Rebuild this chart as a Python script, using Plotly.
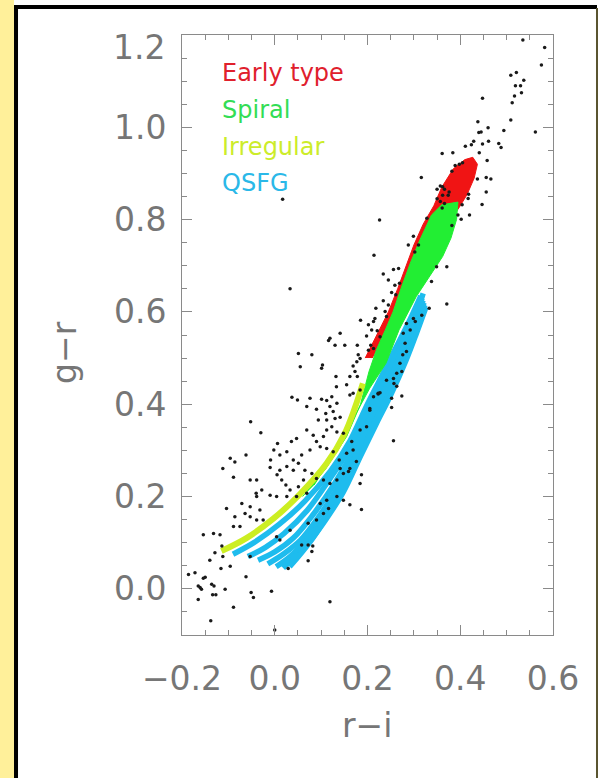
import plotly.graph_objects as go

# ---------------- data ----------------
# field galaxies (r-i, g-r)
field_points = [
    # upper region
    (0.535,1.189),(0.582,1.173),(0.575,1.135),(0.509,1.113),(0.521,1.119),(0.537,1.102),(0.519,1.090),
    (0.530,1.090),(0.532,1.075),(0.517,1.068),(0.512,1.053),(0.448,1.063),(0.509,1.016),(0.562,0.990),
    (0.494,0.993),(0.438,1.012),(0.460,0.999),(0.440,0.989),(0.445,0.990),(0.461,0.970),(0.429,0.970),
    (0.424,0.962),(0.411,0.959),(0.483,0.965),(0.488,0.956),(0.441,0.945),(0.361,0.943),(0.384,0.945),
    (0.458,0.928),(0.389,0.917),(0.398,0.920),(0.405,0.923),(0.382,0.905),(0.316,0.891),(0.437,0.888),
    (0.456,0.891),(0.466,0.888),(0.357,0.873),(0.362,0.871),(0.350,0.866),(0.366,0.866),(0.376,0.860),
    (0.374,0.853),(0.362,0.853),(0.456,0.860),(0.418,0.855),(0.417,0.846),(0.350,0.845),(0.357,0.839),
    (0.366,0.835),(0.447,0.833),(0.404,0.832),(0.361,0.825),(0.420,0.810),(0.395,0.810),(0.402,0.801),
    (0.226,0.799),(0.328,0.803),(0.382,0.787),(0.349,0.698),(0.371,0.698),(0.371,0.617),(0.448,0.964),
    (0.017,0.844),
    # middle region
    (0.214,0.723),(0.033,0.650),(0.299,0.764),(0.288,0.745),(0.302,0.730),(0.310,0.745),
    (0.256,0.692),(0.267,0.694),(0.234,0.682),(0.245,0.669),(0.259,0.658),(0.269,0.662),(0.252,0.642),
    (0.261,0.637),(0.234,0.624),(0.218,0.608),(0.245,0.615),(0.238,0.601),(0.241,0.590),(0.216,0.586),
    (0.213,0.579),(0.202,0.572),(0.185,0.582),(0.209,0.561),(0.198,0.548),(0.221,0.559),(0.227,0.546),
    (0.207,0.528),(0.213,0.521),(0.202,0.517),(0.178,0.528),(0.180,0.507),(0.184,0.499),(0.177,0.492),
    (0.169,0.483),(0.173,0.471),(0.178,0.460),(0.162,0.460),(0.155,0.442),(0.133,0.438),(0.151,0.528),
    (0.141,0.554),(0.119,0.543),(0.116,0.538),(0.130,0.528),(0.051,0.510),(0.080,0.507),(0.055,0.481),
    (0.103,0.485),(0.101,0.478),(0.132,0.460),
    (0.338,0.666),(0.333,0.608),(0.317,0.593),(0.299,0.586),(0.303,0.579),(0.284,0.575),(0.292,0.561),
    (0.277,0.554),(0.281,0.532),(0.276,0.507),(0.270,0.489),(0.263,0.467),(0.256,0.456),(0.241,0.452),
    (0.263,0.439),(0.257,0.445),(0.274,0.471),(0.284,0.514),
    (0.227,0.425),(0.223,0.422),(0.213,0.416),(0.274,0.418),(0.252,0.413),(0.252,0.393),(0.205,0.391),
    (0.256,0.321),
    # lower region
    (0.037,0.415),(0.049,0.409),(0.076,0.413),(0.101,0.411),(0.112,0.408),(0.123,0.416),(0.134,0.402),
    (0.119,0.395),(0.126,0.384),(0.110,0.380),(0.069,0.395),(0.090,0.389),(0.094,0.366),(0.112,0.366),
    (0.130,0.369),(0.141,0.372),(0.162,0.420),(0.169,0.424),(0.184,0.431),(-0.052,0.362),
    (-0.030,0.338),(0.006,0.315),(0.036,0.319),(0.047,0.326),(0.069,0.344),(0.083,0.333),(0.090,0.319),
    (0.105,0.330),(0.112,0.344),(0.123,0.351),(0.134,0.340),(0.148,0.337),(0.166,0.319),(0.184,0.344),
    (0.198,0.351),(0.205,0.387),(0.223,0.424),(-0.002,0.301),(0.011,0.290),(0.026,0.297),(0.040,0.279),
    (0.051,0.272),(0.058,0.290),(0.076,0.301),(0.098,0.308),(0.112,0.304),(0.126,0.297),(0.139,0.279),
    (0.155,0.294),(0.169,0.301),(0.176,0.276),(0.162,0.261),(0.187,0.247),(0.184,0.228),(0.159,0.254),
    (0.148,0.250),(0.141,0.261),(0.134,0.236),(0.119,0.228),(0.105,0.236),(0.090,0.239),(0.080,0.250),
    (0.065,0.257),(0.040,0.257),(0.026,0.265),(0.011,0.257),(-0.009,0.279),(-0.010,0.263),(0.005,0.247),
    (0.015,0.236),(0.024,0.225),(0.033,0.214),(0.051,0.221),(0.062,0.236),(0.069,0.207),(0.047,0.200),
    (0.026,0.200),(0.004,0.200),(-0.010,0.203),(-0.028,0.214),(-0.039,0.236),(-0.053,0.236),(-0.040,0.207),
    (-0.062,0.290),(-0.096,0.283),(-0.086,0.275),(-0.112,0.261),(-0.089,0.242),(-0.071,0.185),
    (-0.053,0.178),(-0.039,0.200),(-0.032,0.171),(-0.025,0.149),(-0.039,0.149),(-0.053,0.156),
    (-0.064,0.163),(-0.086,0.156),(-0.075,0.135),(-0.089,0.135),(-0.104,0.174),(-0.118,0.117),
    (-0.114,0.093),(-0.132,0.120),(-0.154,0.117),(0.072,0.095),(0.082,0.093),(0.058,0.095),(0.033,0.127),
    (0.011,0.106),(0.004,0.113),(0.187,0.172),(0.162,0.182),(0.148,0.192),(0.134,0.200),(0.112,0.192),
    (0.098,0.185),(0.116,0.174),(0.105,0.163),(0.090,0.149),(0.072,0.142),
    # bottom region
    (-0.186,0.031),(-0.172,0.035),(-0.154,0.023),(-0.150,0.025),(-0.165,0.006),(-0.161,0.003),
    (-0.158,-0.001),(-0.136,0.010),(-0.131,0.006),(-0.134,-0.013),(-0.127,-0.013),(-0.165,-0.023),
    (-0.107,-0.001),(-0.089,-0.040),(-0.138,-0.069),(-0.062,0.026),(-0.051,-0.008),(-0.046,-0.019),
    (-0.007,-0.005),(0.000,-0.089),(0.119,-0.028),(-0.116,0.044),(-0.096,0.049),(-0.140,0.062),
    (-0.129,0.078),(-0.112,0.070),(-0.053,0.070),(0.072,0.061),(0.029,0.044),(0.080,0.081),
]
field_ri = [p[0] for p in field_points]
field_gr = [p[1] for p in field_points]

# Early-type track (outline of the red band)
early_ri = [0.195, 0.22, 0.245, 0.265, 0.283, 0.300, 0.320, 0.343, 0.360, 0.385, 0.410, 0.427,
            0.437, 0.430, 0.415, 0.400, 0.360, 0.320, 0.280, 0.240, 0.210]
early_gr = [0.500, 0.55, 0.600, 0.650, 0.700, 0.745, 0.790, 0.830, 0.870, 0.910, 0.930, 0.935,
            0.920, 0.890, 0.855, 0.830, 0.770, 0.700, 0.620, 0.550, 0.500]

# Spiral track (outline of the green band)
spiral_ri = [0.060, 0.110, 0.155, 0.185, 0.203, 0.220, 0.238, 0.255, 0.272, 0.292, 0.313, 0.338, 0.360,
             0.395, 0.392, 0.380, 0.362, 0.335, 0.305, 0.268, 0.240, 0.205, 0.175, 0.135, 0.085]
spiral_gr = [0.200, 0.260, 0.330, 0.400, 0.470, 0.520, 0.560, 0.600, 0.650, 0.705, 0.756, 0.810, 0.832,
             0.838, 0.800, 0.760, 0.720, 0.680, 0.633, 0.561, 0.489, 0.435, 0.380, 0.305, 0.225]

# Irregular track
irr_ri = [-0.115, -0.061, -0.003, 0.054, 0.112, 0.150, 0.172, 0.190]
irr_gr = [0.082, 0.110, 0.152, 0.205, 0.272, 0.335, 0.390, 0.445]

# QSFG tracks (fan of curves)
qsfg_ri = [
    [-0.090, -0.045, 0.010, 0.065, 0.120, 0.162, 0.195, 0.225, 0.260, 0.290, 0.315],
    [-0.058, -0.020, 0.020, 0.070, 0.120, 0.165, 0.200, 0.230, 0.265, 0.292, 0.318],
    [-0.036, 0.000, 0.040, 0.082, 0.127, 0.170, 0.205, 0.235, 0.270, 0.295, 0.320],
    [-0.015, 0.018, 0.055, 0.094, 0.133, 0.175, 0.210, 0.240, 0.275, 0.298, 0.322],
    [0.003, 0.033, 0.068, 0.104, 0.142, 0.180, 0.215, 0.245, 0.280, 0.302, 0.324],
    [0.018, 0.045, 0.077, 0.110, 0.148, 0.186, 0.220, 0.250, 0.285, 0.306, 0.326],
    [0.032, 0.055, 0.082, 0.104, 0.122, 0.142, 0.163, 0.198, 0.227, 0.255, 0.280, 0.300, 0.320],
]
qsfg_gr = [
    [0.075, 0.100, 0.140, 0.190, 0.255, 0.320, 0.390, 0.450, 0.520, 0.580, 0.635],
    [0.070, 0.090, 0.120, 0.170, 0.240, 0.310, 0.380, 0.440, 0.510, 0.570, 0.630],
    [0.062, 0.080, 0.110, 0.160, 0.225, 0.300, 0.370, 0.430, 0.500, 0.560, 0.625],
    [0.054, 0.075, 0.105, 0.155, 0.215, 0.290, 0.360, 0.425, 0.500, 0.555, 0.620],
    [0.048, 0.070, 0.105, 0.150, 0.210, 0.290, 0.360, 0.420, 0.500, 0.555, 0.615],
    [0.045, 0.072, 0.105, 0.150, 0.210, 0.290, 0.360, 0.420, 0.500, 0.555, 0.610],
    [0.048, 0.075, 0.110, 0.145, 0.185, 0.220, 0.257, 0.351, 0.409, 0.470, 0.530, 0.580, 0.640],
]

legend_labels = ["Early type", "Spiral", "Irregular", "QSFG"]
legend_colors = ["#e0202c", "#33dd55", "#ccec2a", "#2ab8e8"]

x_ticks = [-0.2, 0.0, 0.2, 0.4, 0.6]
y_ticks = [0.0, 0.2, 0.4, 0.6, 0.8, 1.0, 1.2]
y_ticktext = ["0.0", "0.2", "0.4", "0.6", "0.8", "1.0", ""]   # top label is drawn slightly lower, as in the original
y_top_label = "1.2"

RED = "#f01414"
GREEN = "#22ee33"
YELLOW = "#ccee22"
CYAN = "#1ebcee"
TEXT_GREY = "#767676"

# ---------------- figure ----------------
fig = go.Figure()

fig.add_trace(go.Scatter(x=early_ri, y=early_gr, mode="lines", fill="toself",
                         fillcolor=RED, line=dict(color=RED, width=1), hoverinfo="skip"))
for rx, gy in zip(qsfg_ri, qsfg_gr):
    fig.add_trace(go.Scatter(x=rx, y=gy, mode="lines",
                             line=dict(color=CYAN, width=5.5, shape="spline"), hoverinfo="skip"))
fig.add_trace(go.Scatter(x=spiral_ri, y=spiral_gr, mode="lines", fill="toself",
                         fillcolor=GREEN, line=dict(color=GREEN, width=1), hoverinfo="skip"))
fig.add_trace(go.Scatter(x=irr_ri, y=irr_gr, mode="lines",
                         line=dict(color=YELLOW, width=6, shape="spline"), hoverinfo="skip"))
fig.add_trace(go.Scatter(x=field_ri, y=field_gr, mode="markers",
                         marker=dict(color="#1a1a1a", size=3.5)))

axis_common = dict(
    showline=True, linecolor="#8a8a8a", linewidth=1, mirror="allticks",
    ticks="inside", ticklen=10, tickcolor="#8a8a8a", tickwidth=1,
    showgrid=False, zeroline=False,
    tickfont=dict(family="DejaVu Sans", size=33, color=TEXT_GREY),
    minor=dict(ticks="inside", ticklen=5, dtick=0.05, tickcolor="#8a8a8a", showgrid=False),
)

fig.update_xaxes(range=[-0.2, 0.6], tickvals=x_ticks, tickformat=".1f",
                 ticklabelstandoff=14, **axis_common)
fig.update_yaxes(range=[-0.1, 1.2], tickvals=y_ticks, ticktext=y_ticktext,
                 ticklabelstandoff=8, **axis_common)

fig.add_annotation(x=-0.0404, y=1.172, xref="paper", yref="y", text=y_top_label, showarrow=False,
                   xanchor="right", yanchor="middle",
                   font=dict(family="DejaVu Sans", size=33, color=TEXT_GREY))

# legend text as annotations
legend_y = [1.118, 1.038, 0.958, 0.880]
for lab, col, ly in zip(legend_labels, legend_colors, legend_y):
    fig.add_annotation(x=-0.117, y=ly, xref="x", yref="y", text=lab, showarrow=False,
                       xanchor="left", yanchor="middle",
                       font=dict(family="DejaVu Sans", size=24, color=col))

# axis titles
fig.add_annotation(x=0.4987, y=-0.15, xref="paper", yref="paper", text="r\u2212i", showarrow=False,
                   xanchor="center", yanchor="middle",
                   font=dict(family="DejaVu Sans", size=33, color=TEXT_GREY))
fig.add_annotation(x=-0.3154, y=0.4717, xref="paper", yref="paper", text="g\u2212r", showarrow=False,
                   textangle=-90, xanchor="center", yanchor="middle",
                   font=dict(family="DejaVu Sans", size=33, color=TEXT_GREY))

# page frame: yellow strip, black borders, olive right line
shapes = [
    dict(type="rect", xref="paper", yref="paper", x0=-0.4906, x1=-0.4528, y0=-0.2383, y1=1.0583,
         fillcolor="#fff09a", line=dict(width=0), layer="below"),
    dict(type="rect", xref="paper", yref="paper", x0=-0.4528, x1=-0.4420, y0=-0.2383, y1=1.0500,
         fillcolor="#000000", line=dict(width=0)),
    dict(type="rect", xref="paper", yref="paper", x0=-0.4528, x1=1.1186, y0=1.0433, y1=1.0500,
         fillcolor="#000000", line=dict(width=0)),
    dict(type="rect", xref="paper", yref="paper", x0=1.1159, x1=1.1213, y0=-0.2383, y1=1.0450,
         fillcolor="#5a5530", line=dict(width=0)),
]

fig.update_layout(
    width=599, height=778,
    margin=dict(l=182, r=46, t=35, b=143),
    paper_bgcolor="white", plot_bgcolor="white",
    showlegend=False,
    shapes=shapes,
)

fig.write_html("out.html", config={"displayModeBar": False},
               post_script="document.body.style.margin='0';document.body.style.overflow='hidden';")
